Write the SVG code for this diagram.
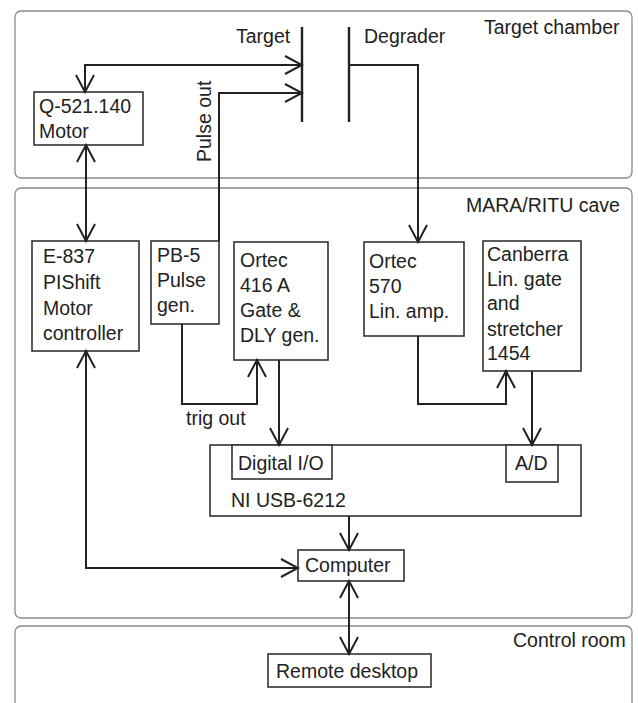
<svg xmlns="http://www.w3.org/2000/svg" width="638" height="703" viewBox="0 0 638 703">
<style>
text{font-family:"Liberation Sans",Arial,sans-serif;font-size:19.5px;fill:#222}
.panel{fill:#fff;stroke:#8a8a8a;stroke-width:1.3}
.box{fill:#fff;stroke:#333;stroke-width:1.6}
.wire{fill:none;stroke:#222;stroke-width:2}
.plate{stroke:#222;stroke-width:2.4}
</style>
<defs>
<marker id="a" markerUnits="userSpaceOnUse" markerWidth="20" markerHeight="22" viewBox="0 0 20 22" refX="18" refY="11" orient="auto-start-reverse">
<path d="M1,2 L18,11 L1,20" fill="none" stroke="#222" stroke-width="2"/>
</marker>
</defs>
<rect width="638" height="703" fill="#fff"/>
<g id="panels">
<rect class="panel" x="15" y="11" width="617" height="167" rx="6"/>
<rect class="panel" x="15" y="188" width="617" height="430" rx="6"/>
<rect class="panel" x="15" y="626" width="617" height="110" rx="6"/>
<text x="484" y="34">Target chamber</text>
<text x="466" y="212">MARA/RITU cave</text>
<text x="513" y="647">Control room</text>
</g>
<g id="target">
<line class="plate" x1="302" y1="27" x2="302" y2="122"/>
<text x="236" y="43">Target</text>
</g>
<g id="degrader">
<line class="plate" x1="349" y1="27" x2="349" y2="122"/>
<text x="364" y="43">Degrader</text>
</g>
<g id="motor">
<rect class="box" x="34" y="92" width="109" height="53"/>
<text x="39" y="113">Q-521.140</text>
<text x="39" y="138">Motor</text>
</g>
<g id="e837">
<rect class="box" x="32" y="241" width="107" height="110"/>
<text x="43" y="263">E-837</text>
<text x="43" y="289">PIShift</text>
<text x="43" y="315">Motor</text>
<text x="43" y="340">controller</text>
</g>
<g id="pb5">
<rect class="box" x="151" y="241" width="68" height="83"/>
<text x="157" y="262">PB-5</text>
<text x="157" y="287">Pulse</text>
<text x="157" y="312">gen.</text>
</g>
<g id="ortec416">
<rect class="box" x="234" y="242" width="94" height="118"/>
<text x="240" y="267">Ortec</text>
<text x="240" y="292">416 A</text>
<text x="240" y="317">Gate &amp;</text>
<text x="240" y="342">DLY gen.</text>
</g>
<g id="ortec570">
<rect class="box" x="364" y="242" width="100" height="94"/>
<text x="369" y="268">Ortec</text>
<text x="369" y="293">570</text>
<text x="369" y="318">Lin. amp.</text>
</g>
<g id="canberra">
<rect class="box" x="483" y="241" width="98" height="130"/>
<text x="487" y="261">Canberra</text>
<text x="487" y="286">Lin. gate</text>
<text x="487" y="310">and</text>
<text x="487" y="336">stretcher</text>
<text x="487" y="360">1454</text>
</g>
<g id="ni">
<rect class="box" x="210" y="445" width="371" height="71"/>
<text x="231" y="507">NI USB-6212</text>
</g>
<g id="digitalio">
<rect class="box" x="232" y="445" width="100" height="34"/>
<text x="238" y="470">Digital I/O</text>
</g>
<g id="ad">
<rect class="box" x="506" y="445" width="52" height="37"/>
<text x="515" y="470">A/D</text>
</g>
<g id="computer">
<rect class="box" x="298" y="550" width="106" height="31"/>
<text x="305" y="572">Computer</text>
</g>
<g id="remote">
<rect class="box" x="268" y="654" width="163" height="33"/>
<text x="276" y="678">Remote desktop</text>
</g>
<g id="connectors">
<path class="wire" d="M85,92 V65 H302" marker-start="url(#a)" marker-end="url(#a)"/>
<path class="wire" d="M86,241 V145" marker-start="url(#a)" marker-end="url(#a)"/>
<path class="wire" d="M219,241 V93 H302" marker-end="url(#a)"/>
<path class="wire" d="M349,65 H418 V242" marker-end="url(#a)"/>
<path class="wire" d="M182,324 V404 H257 V360" marker-end="url(#a)"/>
<path class="wire" d="M418,336 V404 H506 V371" marker-end="url(#a)"/>
<path class="wire" d="M279,360 V445" marker-end="url(#a)"/>
<path class="wire" d="M532,371 V445" marker-end="url(#a)"/>
<path class="wire" d="M349,516 V550" marker-end="url(#a)"/>
<path class="wire" d="M86,351 V568 H298" marker-start="url(#a)" marker-end="url(#a)"/>
<path class="wire" d="M349,581 V654" marker-start="url(#a)" marker-end="url(#a)"/>
<text transform="translate(211,162) rotate(-90)">Pulse out</text>
<text x="186" y="425">trig out</text>
</g>
</svg>
